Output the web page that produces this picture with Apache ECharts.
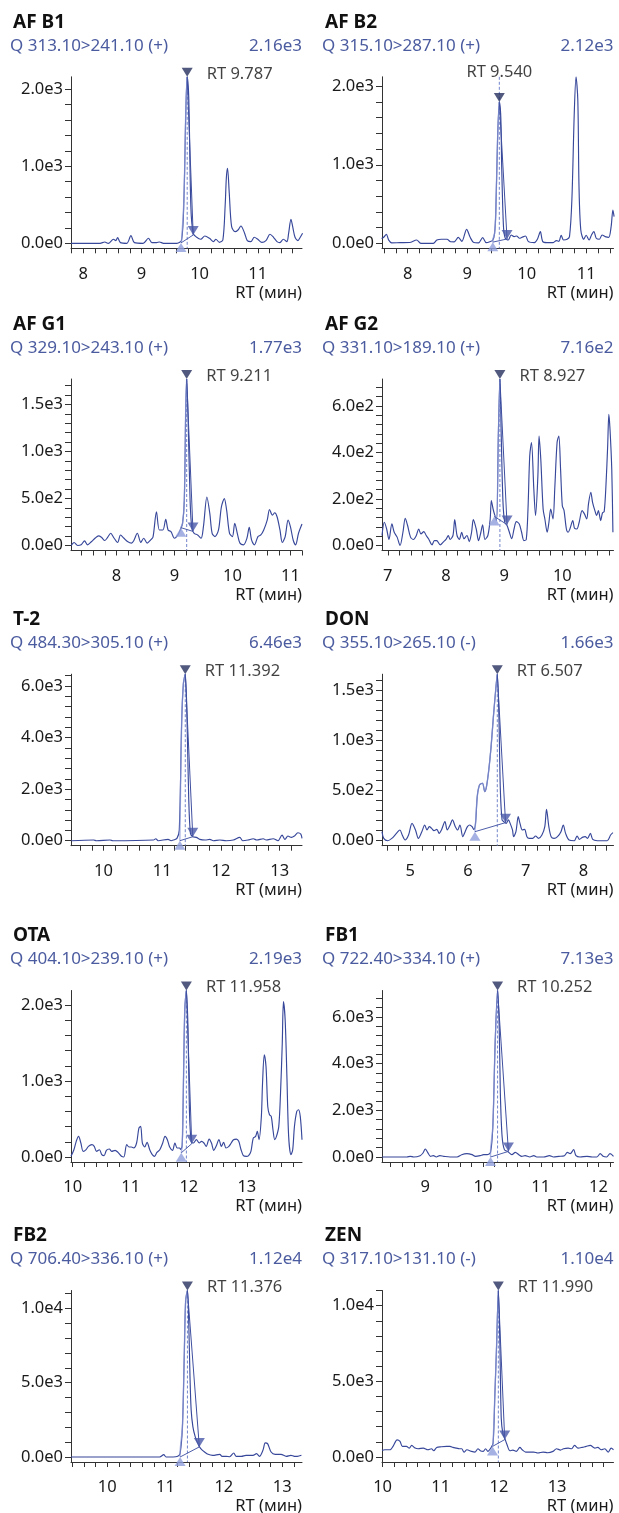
<!DOCTYPE html>
<html>
<head>
<meta charset="utf-8">
<script src="https://cdn.jsdelivr.net/npm/echarts@6/dist/echarts.min.js"></script>
<style>
html, body { margin: 0; padding: 0; background: #fff; }
#chart { width: 619px; height: 1513px; }
</style>
</head>
<body>
<div id="chart"></div>
<script>
// panel texts and values
var names = ['AF B1', 'AF B2', 'AF G1', 'AF G2', 'T-2', 'DON', 'OTA', 'FB1', 'FB2', 'ZEN'];
var transitions = ['Q 313.10>241.10 (+)', 'Q 315.10>287.10 (+)', 'Q 329.10>243.10 (+)', 'Q 331.10>189.10 (+)',
    'Q 484.30>305.10 (+)', 'Q 355.10>265.10 (-)', 'Q 404.10>239.10 (+)', 'Q 722.40>334.10 (+)',
    'Q 706.40>336.10 (+)', 'Q 317.10>131.10 (-)'];
var maxLabels = ['2.16e3', '2.12e3', '1.77e3', '7.16e2', '6.46e3', '1.66e3', '2.19e3', '7.13e3', '1.12e4', '1.10e4'];
var maxima = [2160, 2120, 1770, 716, 6460, 1660, 2190, 7130, 11200, 11000];
var retention = [9.787, 9.540, 9.211, 8.927, 11.392, 6.507, 11.958, 10.252, 11.376, 11.990];
var apexValues = [2160, 1800, 1770, 716, 6460, 1660, 2190, 7130, 11200, 11000];
var peakStart = [[9.68, 5], [9.43, 15], [9.11, 190], [8.83, 125], [11.30, 0], [6.12, 90], [11.87, 55], [10.13, 0], [11.25, 0], [11.89, 700]];
var peakEnd = [[9.89, 108], [9.67, 55], [9.32, 150], [9.05, 90], [11.52, 155], [6.65, 180], [12.05, 175], [10.44, 240], [11.58, 680], [12.10, 1150]];

// tick labels
var xTickLabels = [[8, 9, 10, 11], [8, 9, 10, 11], [8, 9, 10, 11], [7, 8, 9, 10], [10, 11, 12, 13],
    [5, 6, 7, 8], [10, 11, 12, 13], [9, 10, 11, 12], [10, 11, 12, 13], [10, 11, 12, 13]];
var yLabelStep = [1000, 1000, 500, 200, 2000, 500, 1000, 2000, 5000, 5000];
var yTickStep = [200, 200, 100, 40, 400, 100, 200, 400, 1000, 1000];

// chromatograms [RT, intensity]
var traceAFB1 = [[7.79,0],[8.29,0],[8.37,17],[8.43,0],[8.52,52],[8.56,35],[8.59,73],[8.64,9],[8.75,0],[8.82,99],[8.88,9],[9.03,0],[9.12,65],[9.18,9],[9.26,9],[9.31,17],[9.38,0],[9.61,0],[9.69,40],[9.73,560],[9.765,1770],[9.787,2160],[9.815,1860],[9.85,475],[9.89,130],[9.95,78],[10.02,52],[10.09,95],[10.17,65],[10.24,22],[10.28,52],[10.34,13],[10.40,43],[10.44,500],[10.46,850],[10.48,972],[10.51,650],[10.55,220],[10.61,151],[10.66,173],[10.71,225],[10.77,138],[10.82,35],[10.88,22],[10.94,78],[11.0,52],[11.07,13],[11.14,35],[11.21,117],[11.27,78],[11.33,22],[11.38,9],[11.44,52],[11.50,22],[11.53,130],[11.57,311],[11.60,216],[11.64,78],[11.69,35],[11.73,78],[11.77,130]];
var traceAFB2 = [[7.56,60],[7.60,80],[7.64,114],[7.68,40],[7.73,5],[7.87,8],[8.03,10],[8.15,42],[8.22,0],[8.43,0],[8.49,42],[8.57,51],[8.66,51],[8.72,20],[8.78,18],[8.85,76],[8.91,25],[8.99,178],[9.05,76],[9.11,10],[9.19,5],[9.26,72],[9.32,8],[9.38,20],[9.43,40],[9.46,127],[9.48,381],[9.51,1313],[9.54,1800],[9.565,1600],[9.58,975],[9.61,212],[9.64,64],[9.69,42],[9.74,106],[9.79,85],[9.83,93],[9.88,64],[9.92,76],[9.98,93],[10.03,21],[10.13,8],[10.18,51],[10.23,148],[10.27,21],[10.34,8],[10.44,8],[10.50,34],[10.54,25],[10.58,102],[10.62,42],[10.68,51],[10.72,85],[10.76,551],[10.80,1652],[10.83,2120],[10.86,1822],[10.88,720],[10.91,170],[10.96,51],[11.0,102],[11.05,42],[11.09,106],[11.13,148],[11.17,64],[11.22,51],[11.27,106],[11.32,85],[11.38,76],[11.42,212],[11.45,424],[11.47,339]];
var traceAFG1 = [[7.22,0],[7.27,32],[7.33,0],[7.39,7],[7.45,49],[7.50,7],[7.57,42],[7.63,77],[7.69,102],[7.74,88],[7.80,53],[7.85,88],[7.90,130],[7.96,77],[8.02,32],[8.07,112],[8.13,77],[8.19,42],[8.26,25],[8.30,53],[8.36,130],[8.42,32],[8.47,77],[8.53,25],[8.59,60],[8.63,88],[8.69,358],[8.74,165],[8.80,165],[8.85,277],[8.89,165],[8.94,148],[9.00,77],[9.06,112],[9.10,165],[9.14,235],[9.17,481],[9.195,1450],[9.211,1770],[9.235,1360],[9.27,481],[9.30,183],[9.34,130],[9.40,112],[9.46,77],[9.50,200],[9.56,516],[9.61,341],[9.65,130],[9.70,95],[9.76,165],[9.81,411],[9.86,499],[9.90,376],[9.95,130],[10.00,95],[10.04,235],[10.09,112],[10.13,25],[10.19,7],[10.25,77],[10.29,193],[10.33,60],[10.38,7],[10.44,95],[10.49,112],[10.54,165],[10.60,270],[10.64,383],[10.69,323],[10.73,348],[10.77,306],[10.82,165],[10.86,32],[10.91,95],[10.96,270],[11.00,200],[11.05,53],[11.09,7],[11.14,130],[11.20,228]];
var traceAFG2 = [[6.90,43],[6.94,100],[6.98,71],[7.02,26],[7.07,93],[7.11,57],[7.16,36],[7.21,0],[7.26,57],[7.30,117],[7.34,86],[7.39,36],[7.44,26],[7.49,43],[7.53,71],[7.57,50],[7.62,60],[7.66,43],[7.70,29],[7.76,3],[7.80,21],[7.84,21],[7.90,3],[7.96,17],[8.00,26],[8.04,43],[8.07,26],[8.12,43],[8.15,111],[8.19,43],[8.23,26],[8.27,57],[8.31,29],[8.36,43],[8.40,17],[8.44,57],[8.47,111],[8.52,71],[8.56,21],[8.60,57],[8.63,89],[8.67,26],[8.72,43],[8.76,114],[8.78,193],[8.81,157],[8.84,129],[8.87,107],[8.90,471],[8.927,716],[8.95,471],[8.98,186],[9.01,100],[9.05,86],[9.09,57],[9.13,29],[9.17,71],[9.21,103],[9.26,93],[9.30,57],[9.34,21],[9.38,26],[9.41,157],[9.44,386],[9.47,443],[9.51,243],[9.54,129],[9.58,300],[9.60,471],[9.63,371],[9.67,157],[9.70,114],[9.74,57],[9.77,100],[9.80,157],[9.84,114],[9.87,243],[9.91,443],[9.94,471],[9.97,329],[10.00,171],[10.03,150],[10.07,71],[10.10,57],[10.13,71],[10.18,107],[10.21,74],[10.25,71],[10.29,100],[10.34,150],[10.38,136],[10.42,114],[10.45,179],[10.49,229],[10.52,186],[10.56,150],[10.59,129],[10.62,150],[10.66,107],[10.69,140],[10.72,146],[10.75,257],[10.78,429],[10.80,564],[10.82,500],[10.85,329],[10.87,57]];
var traceT2 = [[9.45,0],[9.83,26],[9.88,0],[10.11,26],[10.16,0],[10.85,26],[10.89,77],[10.93,0],[11.10,52],[11.15,0],[11.19,26],[11.25,90],[11.29,413],[11.33,4540],[11.36,6100],[11.392,6460],[11.42,4900],[11.45,1703],[11.48,284],[11.52,155],[11.58,129],[11.64,52],[11.73,26],[11.81,52],[11.87,0],[11.98,26],[12.09,0],[12.21,26],[12.32,129],[12.37,0],[12.46,26],[12.55,77],[12.61,26],[12.72,77],[12.77,26],[12.89,77],[12.97,0],[13.04,219],[13.09,52],[13.14,181],[13.20,129],[13.25,181],[13.31,310],[13.36,258],[13.38,90]];
var traceDON = [[4.51,90],[4.54,23],[4.61,0],[4.68,23],[4.76,73],[4.82,107],[4.86,57],[4.91,7],[4.97,57],[5.03,173],[5.09,107],[5.14,23],[5.20,90],[5.25,157],[5.29,107],[5.33,140],[5.37,123],[5.41,100],[5.46,113],[5.50,73],[5.54,107],[5.60,190],[5.64,107],[5.69,157],[5.73,207],[5.78,140],[5.82,107],[5.86,157],[5.91,40],[5.95,90],[5.99,140],[6.03,157],[6.07,140],[6.10,113],[6.13,173],[6.16,440],[6.20,557],[6.25,573],[6.29,490],[6.32,540],[6.36,707],[6.40,940],[6.44,1240],[6.48,1507],[6.507,1660],[6.535,1240],[6.56,507],[6.59,207],[6.62,190],[6.66,173],[6.70,207],[6.73,173],[6.77,107],[6.79,40],[6.83,90],[6.87,240],[6.90,173],[6.94,107],[6.98,113],[7.02,40],[7.06,23],[7.12,23],[7.17,47],[7.22,23],[7.28,57],[7.33,140],[7.36,313],[7.40,140],[7.44,40],[7.49,23],[7.55,40],[7.61,90],[7.65,157],[7.69,73],[7.75,7],[7.84,0],[7.89,47],[7.93,13],[7.98,33],[8.03,40],[8.07,23],[8.12,73],[8.16,13],[8.24,0],[8.41,0],[8.47,57],[8.51,80]];
var traceOTA = [[9.97,9],[10.02,96],[10.06,206],[10.10,271],[10.14,184],[10.18,74],[10.23,96],[10.27,140],[10.33,162],[10.37,140],[10.41,74],[10.46,96],[10.50,31],[10.54,18],[10.58,88],[10.63,105],[10.67,74],[10.73,88],[10.78,61],[10.84,9],[10.88,0],[10.93,162],[10.97,131],[11.01,131],[11.05,118],[11.10,184],[11.14,381],[11.17,403],[11.20,184],[11.24,131],[11.28,193],[11.33,88],[11.37,31],[11.41,9],[11.45,61],[11.50,96],[11.55,184],[11.59,271],[11.63,228],[11.67,131],[11.72,88],[11.76,184],[11.80,118],[11.84,118],[11.86,100],[11.885,150],[11.90,621],[11.93,1934],[11.958,2190],[11.985,1715],[12.01,621],[12.04,206],[12.08,184],[12.13,228],[12.18,184],[12.22,206],[12.26,184],[12.30,140],[12.35,236],[12.39,184],[12.43,88],[12.47,140],[12.52,228],[12.56,140],[12.60,193],[12.64,118],[12.69,140],[12.73,184],[12.77,228],[12.82,236],[12.86,206],[12.90,96],[12.94,18],[12.99,9],[13.03,18],[13.07,74],[13.11,249],[13.15,271],[13.18,337],[13.21,228],[13.25,534],[13.27,971],[13.30,1343],[13.33,1190],[13.36,665],[13.39,556],[13.42,534],[13.45,359],[13.48,228],[13.51,271],[13.55,403],[13.58,840],[13.61,1497],[13.63,2044],[13.66,1803],[13.69,1059],[13.72,271],[13.76,31],[13.79,96],[13.82,403],[13.86,600],[13.89,621],[13.92,534],[13.95,228]];
var traceFB1 = [[8.25,0],[8.68,0],[8.74,29],[8.80,0],[8.91,57],[8.96,171],[9.00,343],[9.04,200],[9.09,29],[9.14,57],[9.19,0],[9.25,57],[9.32,29],[9.43,0],[9.55,0],[9.63,100],[9.72,143],[9.81,100],[9.87,29],[9.95,57],[10.01,100],[10.07,100],[10.13,200],[10.17,1314],[10.21,4887],[10.252,7130],[10.28,5600],[10.30,2743],[10.33,886],[10.37,314],[10.43,230],[10.50,100],[10.56,200],[10.62,100],[10.67,29],[10.73,57],[10.81,0],[10.88,57],[10.93,0],[11.05,0],[11.15,57],[11.22,0],[11.31,29],[11.41,57],[11.46,200],[11.51,143],[11.57,314],[11.61,57],[11.68,0],[11.80,29],[11.89,0],[11.97,0],[12.03,143],[12.08,29],[12.14,0],[12.20,143],[12.26,29]];
var traceFB2 = [[9.38,0],[9.87,0],[10.33,0],[10.90,0],[10.97,158],[11.01,0],[11.13,0],[11.21,45],[11.25,225],[11.29,2027],[11.32,6531],[11.345,10500],[11.376,11200],[11.40,8783],[11.42,5405],[11.44,3153],[11.47,2027],[11.51,1351],[11.55,950],[11.58,700],[11.62,500],[11.67,338],[11.73,180],[11.81,113],[11.93,180],[11.97,45],[12.04,45],[12.10,20],[12.17,270],[12.21,45],[12.30,45],[12.38,113],[12.50,113],[12.56,225],[12.61,45],[12.67,450],[12.71,946],[12.75,901],[12.81,338],[12.88,180],[12.98,180],[13.07,45],[13.15,113],[13.21,45],[13.26,45],[13.33,113]];
var traceZEN = [[9.99,437],[10.04,480],[10.13,480],[10.18,699],[10.25,1135],[10.30,1026],[10.34,699],[10.41,699],[10.46,589],[10.50,764],[10.56,589],[10.61,546],[10.70,589],[10.78,480],[10.84,546],[10.88,415],[10.93,633],[11.01,677],[11.10,699],[11.16,699],[11.21,633],[11.27,589],[11.32,546],[11.36,546],[11.40,327],[11.45,480],[11.53,371],[11.59,327],[11.64,546],[11.68,415],[11.73,371],[11.77,546],[11.81,371],[11.86,589],[11.90,917],[11.93,4082],[11.96,7357],[11.99,11000],[12.015,7793],[12.04,2554],[12.07,1506],[12.10,1244],[12.14,808],[12.19,415],[12.24,458],[12.30,371],[12.36,633],[12.40,480],[12.46,327],[12.53,327],[12.60,327],[12.67,262],[12.76,327],[12.84,284],[12.93,371],[12.99,546],[13.06,458],[13.11,546],[13.19,589],[13.25,546],[13.30,764],[13.36,589],[13.43,633],[13.50,699],[13.57,764],[13.65,589],[13.70,633],[13.76,480],[13.82,546],[13.88,327],[13.93,589],[13.97,480]];
var traces = [traceAFB1, traceAFB2, traceAFG1, traceAFG2, traceT2, traceDON, traceOTA, traceFB1, traceFB2, traceZEN];

// layout
var xRange = [[7.79, 11.76], [7.567, 11.46], [7.216, 11.2], [6.90, 10.88], [9.446, 13.38],
    [4.51, 8.52], [9.97, 13.95], [8.25, 12.26], [9.38, 13.34], [9.99, 13.97]];
var rtLabelTop = [false, true, false, false, false, false, false, false, false, false];
var rowZero = [243.3, 545.5, 840.7, 1157, 1457];
var colLeft = [71, 382];
var colWidth = [231, 231.5];
var FONT = '"Noto Sans", "Open Sans", sans-serif';

var chart = echarts.init(document.getElementById('chart'));
var grids = [], xAxes = [], yAxes = [], series = [], graphics = [];

function fmtExp(v) {
    return v.toExponential(1).replace('+', '');
}

for (var i = 0; i < 10; i++) {
    var row = Math.floor(i / 2), col = i % 2;
    var z = rowZero[row];
    var ymax = maxima[i], ymin = -0.03 * ymax;
    grids.push({ left: colLeft[col], top: z - 166.5, width: colWidth[col], height: 171.5, outerBoundsMode: 'none' });

    var xt = [];
    for (var k = Math.ceil(xRange[i][0] * 5 - 1e-6); k <= Math.floor(xRange[i][1] * 5 + 1e-6); k++) xt.push(k / 5);
    xAxes.push({
        type: 'value', gridIndex: i, min: xRange[i][0], max: xRange[i][1],
        axisLine: { onZero: false, lineStyle: { color: '#333', width: 1 } },
        axisTick: { show: true, length: 5, customValues: xt, lineStyle: { color: '#333' } },
        axisLabel: { customValues: xTickLabels[i], margin: 17, fontSize: 16.5, color: '#1a1a1a', fontFamily: FONT,
            formatter: function (v) { return String(v); } },
        splitLine: { show: false }
    });

    var yt = [], yl = [];
    for (var v = 0; v <= ymax + 1e-6; v += yTickStep[i]) yt.push(v);
    for (var v2 = 0; v2 <= ymax + 1e-6; v2 += yLabelStep[i]) yl.push(v2);
    yAxes.push({
        type: 'value', gridIndex: i, min: ymin, max: ymax,
        axisLine: { show: true, lineStyle: { color: '#333', width: 1 } },
        axisTick: { show: true, length: 6, customValues: yt, lineStyle: { color: '#333' } },
        axisLabel: { customValues: yl, margin: 8, fontSize: 16.5, color: '#1a1a1a', fontFamily: FONT, formatter: fmtExp },
        splitLine: { show: false }
    });

    var rt = retention[i];
    var apex = [rt, apexValues[i]];
    var common = { type: 'line', xAxisIndex: i, yAxisIndex: i, symbol: 'none', silent: true, animation: false };

    series.push(Object.assign({}, common, {
        data: traces[i], smooth: 0.3, z: 2,
        lineStyle: { color: '#37479a', width: 1.15 }
    }));
    // rising flank of the integrated peak, drawn lighter
    var flank = traces[i].filter(function (p) { return p[0] >= peakStart[i][0] && p[0] <= rt; });
    flank.unshift(peakStart[i]);
    series.push(Object.assign({}, common, {
        data: flank, smooth: 0.3, z: 3,
        lineStyle: { color: '#8c9ad8', width: 1.4, opacity: 0.7 }
    }));
    series.push(Object.assign({}, common, {
        data: [[rt, ymax], [rt, ymin]], z: 3,
        lineStyle: { color: '#7385cc', width: 1, type: [3, 2] }
    }));
    series.push(Object.assign({}, common, {
        data: [apex, peakEnd[i]], z: 3,
        lineStyle: { color: '#3f4f9f', width: 1 }
    }));
    series.push(Object.assign({}, common, {
        data: [peakStart[i], peakEnd[i]], z: 3,
        lineStyle: { color: '#4e5eaa', width: 1 }
    }));
    // peak markers
    series.push({
        type: 'scatter', xAxisIndex: i, yAxisIndex: i, silent: true, animation: false, z: 5,
        symbol: 'triangle', symbolSize: [11, 9],
        data: [
            { value: apex, symbolRotate: 180, symbolOffset: [0, -4.5], itemStyle: { color: '#252f5e' } },
            { value: peakEnd[i], symbolRotate: 180, symbolOffset: [0, -4.5], itemStyle: { color: '#4a59a8' } },
            { value: peakStart[i], symbolOffset: [0, 4.5], itemStyle: { color: '#8f9ddb' } }
        ]
    });
    // RT label
    series.push({
        type: 'scatter', xAxisIndex: i, yAxisIndex: i, silent: true, animation: false, z: 6,
        symbol: 'circle', symbolSize: 1, itemStyle: { color: 'rgba(0,0,0,0)' },
        data: [rtLabelTop[i] ? [rt, ymax] : apex],
        label: {
            show: true, formatter: 'RT ' + rt.toFixed(3), color: '#111', fontSize: 16.5, fontFamily: FONT,
            position: rtLabelTop[i] ? 'inside' : 'right', distance: 19,
            offset: rtLabelTop[i] ? [0, -5] : [0, -3]
        }
    });

    var leftX = col === 0 ? 13 : 325;
    var subX = col === 0 ? 10 : 322;
    var rightX = colLeft[col] + colWidth[col];
    graphics.push({ type: 'text', x: leftX, y: z - 221, silent: true,
        style: { text: names[i], font: 'bold 19px ' + FONT, fill: '#111', textVerticalAlign: 'middle', verticalAlign: 'middle' } });
    graphics.push({ type: 'text', x: subX, y: z - 197.5, silent: true,
        style: { text: transitions[i], font: '17px ' + FONT, fill: '#4b5b9f', textVerticalAlign: 'middle', verticalAlign: 'middle' } });
    graphics.push({ type: 'text', x: rightX, y: z - 197.5, silent: true,
        style: { text: maxLabels[i], font: '17px ' + FONT, fill: '#4b5b9f', textAlign: 'right', align: 'right',
            textVerticalAlign: 'middle', verticalAlign: 'middle' } });
    graphics.push({ type: 'text', x: rightX, y: z + 49.5, silent: true,
        style: { text: 'RT (мин)', font: '16.5px ' + FONT, fill: '#1a1a1a', textAlign: 'right', align: 'right',
            textVerticalAlign: 'middle', verticalAlign: 'middle' } });
}

chart.setOption({
    backgroundColor: '#fff',
    animation: false,
    grid: grids,
    xAxis: xAxes,
    yAxis: yAxes,
    series: series,
    graphic: graphics
});
</script>
</body>
</html>
